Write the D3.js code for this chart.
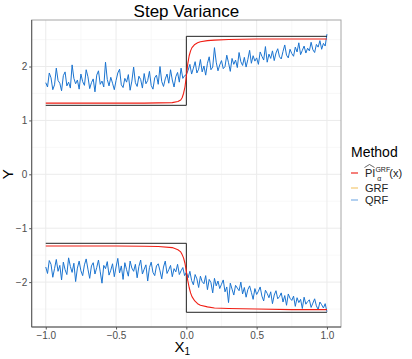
<!DOCTYPE html>
<html>
<head>
<meta charset="utf-8">
<script src="https://cdn.jsdelivr.net/npm/d3@7"></script>
<style>
  body { margin: 0; background: #fff; }
  svg text { font-family: "Liberation Sans", Arial, sans-serif; }
</style>
</head>
<body>
<svg id="chart" width="412" height="359"></svg>
<script>
// truth interval (step)
var truthX = [-1, 0, 0, 1];
var truthUpper = [1.28, 1.28, 2.56, 2.56];
var truthLower = [-1.28, -1.28, -2.56, -2.56];

// PI^GRF interval
var redX = [-1, -0.75, -0.5, -0.3, -0.2, -0.1, -0.06, -0.04, -0.03, -0.02, -0.01, 0, 0.01, 0.02, 0.03, 0.04, 0.06, 0.08, 0.1, 0.15, 0.2, 0.3, 0.5, 0.75, 1];
var redUpper = [1.32, 1.32, 1.32, 1.32, 1.325, 1.33, 1.35, 1.38, 1.42, 1.5, 1.62, 1.82, 2.05, 2.2, 2.29, 2.35, 2.41, 2.44, 2.46, 2.48, 2.49, 2.5, 2.51, 2.51, 2.51];
var redLower = [-1.33, -1.33, -1.33, -1.335, -1.34, -1.36, -1.4, -1.44, -1.49, -1.55, -1.65, -1.8, -1.97, -2.1, -2.2, -2.27, -2.35, -2.4, -2.43, -2.46, -2.48, -2.49, -2.5, -2.51, -2.51];

// QRF interval, 161 points evenly spaced on [-1, 1]
var qrfUpper = [
  1.70, 1.62, 1.88, 1.79, 1.57, 1.66, 1.97, 1.74, 1.69, 1.55,
  1.83, 1.90, 1.64, 1.71, 1.60, 2.03, 1.78, 1.68, 1.75, 1.58,
  1.86, 1.72, 1.65, 1.94, 1.81, 1.59, 1.70, 1.77, 1.53, 1.84,
  1.92, 1.67, 1.73, 1.62, 2.08, 1.76, 1.64, 1.80, 1.69, 1.57,
  1.74, 1.88, 1.95, 1.66, 1.61, 1.78, 1.71, 1.85, 1.56, 1.73,
  1.99, 1.70, 1.63, 1.82, 1.76, 1.60, 1.87, 1.68, 1.74, 1.91,
  1.65, 1.58, 1.79, 1.84, 1.67, 2.00, 1.72, 1.63, 1.77, 1.86,
  1.69, 1.94, 1.75, 1.62, 1.81, 1.89, 1.71, 1.97, 1.78, 1.83,
  1.85,
  1.93, 2.04, 1.86, 1.97, 2.09, 1.88, 1.95, 2.13, 1.90,
  2.01, 1.84, 2.06, 2.18, 1.94, 1.99, 2.35, 2.08, 1.92, 2.03,
  2.11, 1.96, 2.00, 2.21, 2.07, 1.91, 2.15, 2.04, 2.12, 1.98,
  2.26, 2.09, 2.02, 2.17, 1.99, 2.13, 2.30, 2.06, 2.20, 2.10,
  2.16, 2.04, 2.27, 2.19, 2.12, 2.37, 2.08, 2.23, 2.15, 2.29,
  2.11, 2.25, 2.33, 2.18, 2.14, 2.28, 2.40, 2.21, 2.16, 2.32,
  2.24, 2.19, 2.36, 2.27, 2.44, 2.22, 2.30, 2.38, 2.25, 2.34,
  2.29, 2.45, 2.31, 2.26, 2.41, 2.36, 2.48, 2.32, 2.43, 2.38,
  2.60];
var qrfLower = [
  -1.72, -1.84, -1.60, -1.67, -1.91, -1.75, -1.58, -1.80, -1.69, -1.96,
  -1.63, -1.77, -1.86, -1.55, -1.71, -1.82, -1.65, -1.99, -1.74, -1.61,
  -1.79, -1.88, -1.68, -1.57, -1.76, -1.93, -1.70, -1.64, -1.85, -1.73,
  -1.59, -1.81, -2.02, -1.69, -1.75, -1.62, -1.87, -1.78, -1.66, -1.90,
  -1.72, -1.56, -1.83, -1.70, -1.95, -1.64, -1.77, -1.89, -1.61, -1.74,
  -1.80, -1.67, -1.92, -1.71, -1.59, -1.85, -1.76, -1.68, -1.98, -1.73,
  -1.63, -1.82, -1.88, -1.70, -1.66, -1.79, -1.94, -1.72, -1.61, -1.84,
  -1.77, -1.69, -1.90, -1.75, -1.81, -1.67, -1.86, -1.79, -1.73, -1.88,
  -1.82,
  -1.92, -1.80, -1.97, -2.05, -1.86, -1.94, -2.10, -1.89, -1.99,
  -2.03, -1.88, -2.14, -1.95, -2.01, -2.20, -1.93, -2.07, -1.98, -2.12,
  -2.04, -1.96, -2.18, -2.09, -2.38, -2.02, -2.13, -2.24, -2.06, -2.11,
  -2.16, -2.00, -2.22, -2.10, -2.28, -2.14, -2.07, -2.19, -2.32, -2.12,
  -2.23, -2.17, -2.09, -2.26, -2.35, -2.15, -2.21, -2.29, -2.18, -2.40,
  -2.24, -2.16, -2.31, -2.27, -2.20, -2.37, -2.25, -2.43, -2.22, -2.30,
  -2.34, -2.26, -2.45, -2.29, -2.38, -2.32, -2.49, -2.28, -2.41, -2.36,
  -2.33, -2.47, -2.39, -2.31, -2.44, -2.51, -2.37, -2.42, -2.48, -2.40,
  -2.55];

var xTicks = [-1, -0.5, 0, 0.5, 1];
var yTicks = [-2, -1, 0, 1, 2];
var legendLabels = ["PI", "GRF", "QRF"];
var legendColors = ["#ee2b22", "#f4c872", "#7fb1e6"];

var svg = d3.select("#chart");
var pL = 31.7, pR = 341, pT = 20, pB = 327;

var x = d3.scaleLinear().domain([-1.1, 1.1]).range([pL, pR]);
var y = d3.scaleLinear().domain([-2.833, 2.863]).range([pB, pT]);

// grid
var g = svg.append("g");
var minorX = [-0.75, -0.25, 0.25, 0.75], minorY = [-2.5, -1.5, -0.5, 0.5, 1.5, 2.5];
g.selectAll(".mx").data(minorX).enter().append("line")
  .attr("x1", d => x(d)).attr("x2", d => x(d)).attr("y1", pT).attr("y2", pB)
  .attr("stroke", "#f3f3f3").attr("stroke-width", 0.6);
g.selectAll(".my").data(minorY).enter().append("line")
  .attr("y1", d => y(d)).attr("y2", d => y(d)).attr("x1", pL).attr("x2", pR)
  .attr("stroke", "#f3f3f3").attr("stroke-width", 0.6);
g.selectAll(".gx").data(xTicks).enter().append("line")
  .attr("x1", d => x(d)).attr("x2", d => x(d)).attr("y1", pT).attr("y2", pB)
  .attr("stroke", "#ebebeb").attr("stroke-width", 1);
g.selectAll(".gy").data(yTicks).enter().append("line")
  .attr("y1", d => y(d)).attr("y2", d => y(d)).attr("x1", pL).attr("x2", pR)
  .attr("stroke", "#ebebeb").attr("stroke-width", 1);

var line = d3.line().x(d => x(d[0])).y(d => y(d[1]));
var qrfX = d3.range(qrfUpper.length).map(i => -1 + 2 * i / (qrfUpper.length - 1));

function draw(xs, ys, color, w) {
  svg.append("path").datum(xs.map((v, i) => [v, ys[i]]))
    .attr("d", line).attr("fill", "none")
    .attr("stroke", color).attr("stroke-width", w).attr("stroke-linejoin", "round");
}
draw(qrfX, qrfUpper, "#1b74d0", 1);
draw(qrfX, qrfLower, "#1b74d0", 1);
draw(truthX, truthUpper, "#222", 1);
draw(truthX, truthLower, "#222", 1);
draw(redX, redUpper, "#f01e14", 1.1);
draw(redX, redLower, "#f01e14", 1.1);

// panel border
svg.append("rect").attr("x", pL).attr("y", pT).attr("width", pR - pL).attr("height", pB - pT)
  .attr("fill", "none").attr("stroke", "#a6a6a6").attr("stroke-width", 1);
svg.append("path").attr("d", "M" + pL + "," + pT + "V" + pB + "H" + pR)
  .attr("fill", "none").attr("stroke", "#555").attr("stroke-width", 1);

// axes
var xAxis = svg.append("g").attr("transform", "translate(0," + pB + ")")
  .call(d3.axisBottom(x).tickValues(xTicks).tickFormat(d => d3.format(".1f")(d).replace("-", "\u2212"))
    .tickSizeOuter(0).tickSize(2.5).tickPadding(2));
var yAxis = svg.append("g").attr("transform", "translate(" + pL + ",0)")
  .call(d3.axisLeft(y).tickValues(yTicks).tickFormat(d => d3.format("d")(d).replace("-", "\u2212"))
    .tickSizeOuter(0).tickSize(2.5).tickPadding(2));
[xAxis, yAxis].forEach(function(a) {
  a.select(".domain").remove();
  a.selectAll(".tick line").attr("stroke", "#555");
  a.selectAll(".tick text").attr("fill", "#4d4d4d").style("font-size", "10px")
    .style("font-family", "Liberation Sans, Arial, sans-serif");
});

// titles
svg.append("text").attr("x", (pL + pR) / 2).attr("y", 17).attr("text-anchor", "middle")
  .style("font-size", "17px").attr("fill", "#000").text("Step Variance");
var xt = svg.append("text").attr("x", (pL + pR) / 2 - 4).attr("y", 352).attr("text-anchor", "middle")
  .style("font-size", "15px");
xt.append("tspan").text("X");
xt.append("tspan").attr("dy", 3).style("font-size", "10px").text("1");
svg.append("text").attr("transform", "translate(13," + y(0) + ") rotate(-90)")
  .attr("text-anchor", "middle").style("font-size", "15px").text("Y");

// legend
var lg = svg.append("g");
lg.append("text").attr("x", 351).attr("y", 157).style("font-size", "14px").text("Method");
var ly = [173, 188, 200];
lg.selectAll(".k").data(legendColors).enter().append("line")
  .attr("x1", 351).attr("x2", 358).attr("y1", (d, i) => ly[i]).attr("y2", (d, i) => ly[i])
  .attr("stroke", d => d).attr("stroke-width", 1.2);
var pi = lg.append("text").attr("x", 365).attr("y", ly[0] + 4).style("font-size", "11px").attr("fill", "#222");
pi.append("tspan").text("PI");
pi.append("tspan").attr("dy", -5).style("font-size", "7px").text("GRF");
pi.append("tspan").attr("dx", -13).attr("dy", 9).style("font-size", "7px").text("\u03b1");
pi.append("tspan").attr("dx", 8).attr("dy", -4).text("(x)");
lg.append("path").attr("d", "M364.5,167.5 L369.5,164.5 L374.5,167.5")
  .attr("fill", "none").attr("stroke", "#222").attr("stroke-width", 0.7);
lg.selectAll(".lb").data(legendLabels.slice(1)).enter().append("text")
  .attr("x", 365).attr("y", (d, i) => ly[i + 1] + 4).style("font-size", "11px").attr("fill", "#222")
  .text(d => d);
</script>
</body>
</html>
